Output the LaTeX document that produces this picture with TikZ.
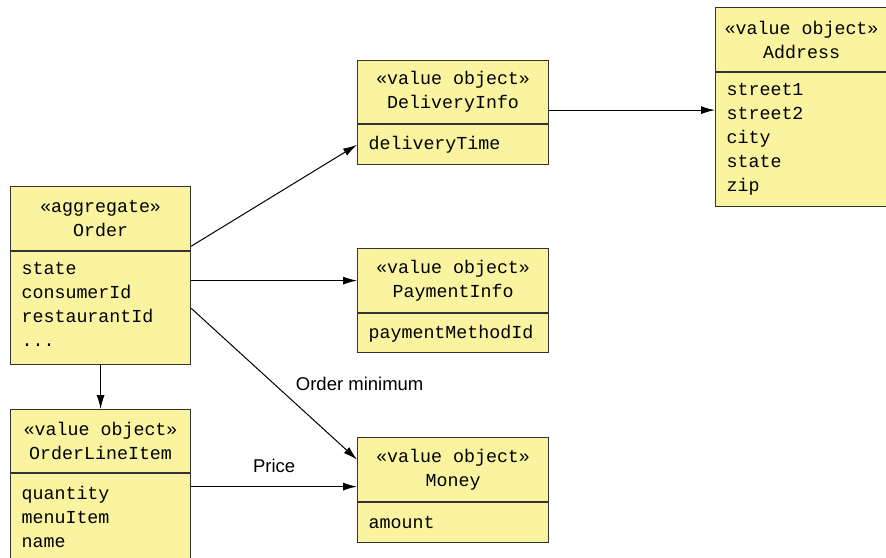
\documentclass[tikz,border=0pt]{standalone}
\usepackage{fontspec}
\setmainfont{Liberation Sans}
\setmonofont{Liberation Mono}
\usetikzlibrary{arrows.meta}
\definecolor{umlfill}{HTML}{FAF4A0}
\definecolor{umlline}{HTML}{333333}

\begin{document}
\begin{tikzpicture}[x=1pt, y=-1pt,
		classhead/.style={draw=umlline, fill=umlfill, line width=1.2pt, anchor=north west,
			inner sep=0pt, align=center, font=\ttfamily\fontsize{18.3}{24}\selectfont},
		classbody/.style={classhead, align=left, inner xsep=11pt},
		link/.style={-{Latex[length=14pt, width=8pt]}, line width=1pt},
		linklabel/.style={font=\fontsize{18.5}{22}\selectfont}]
		\useasboundingbox (0,0) rectangle (886,557);

		% Aggregate root
		\node[classhead, minimum width=180pt, minimum height=64pt] (order) at (10,186) {«aggregate»\\Order};
		\node[classbody, text width=158pt, minimum height=113pt] (order-attr) at (order.south west) {state\\consumerId\\restaurantId\\...\strut};

		% Value objects
		\node[classhead, minimum width=191pt, minimum height=63pt] (delivery) at (357,60) {«value object»\\DeliveryInfo};
		\node[classbody, text width=169pt, minimum height=40pt] (delivery-attr) at (delivery.south west) {deliveryTime};

		\node[classhead, minimum width=172pt, minimum height=64pt] (address) at (715,7) {«value object»\\Address};
		\node[classbody, text width=150pt, minimum height=134pt] (address-attr) at (address.south west) {street1\\street2\\city\\state\\zip};

		\node[classhead, minimum width=191pt, minimum height=64pt] (payment) at (357,248) {«value object»\\PaymentInfo};
		\node[classbody, text width=169pt, minimum height=39pt] (payment-attr) at (payment.south west) {paymentMethodId};

		\node[classhead, minimum width=191pt, minimum height=64pt] (money) at (357,437) {«value object»\\Money};
		\node[classbody, text width=169pt, minimum height=40pt] (money-attr) at (money.south west) {amount};

		\node[classhead, minimum width=180pt, minimum height=63pt] (lineitem) at (10,409) {«value object»\\OrderLineItem};
		\node[classbody, text width=158pt, minimum height=86pt] (lineitem-attr) at (lineitem.south west) {quantity\\menuItem\\name};

		% Associations
		\draw[link] ([yshift=5pt]order.south east) -- (delivery-attr.west);
		\draw[link] (payment.west -| order-attr.east) -- (payment.west);
		\draw[link] (order-attr.east) -- node[linklabel, midway, right=18pt] {Order minimum} ([yshift=10pt]money.west);
		\draw[link] (order-attr.south) -- (lineitem.north);
		\draw[link] ([yshift=-17pt]money.west -| lineitem-attr.east) -- node[linklabel, midway, above=10pt] {Price} ([yshift=-17pt]money.west);
		\draw[link] ([yshift=-18pt]delivery.east) -- ([yshift=-18pt]delivery.east -| address-attr.west);
	\end{tikzpicture}
\end{document}
